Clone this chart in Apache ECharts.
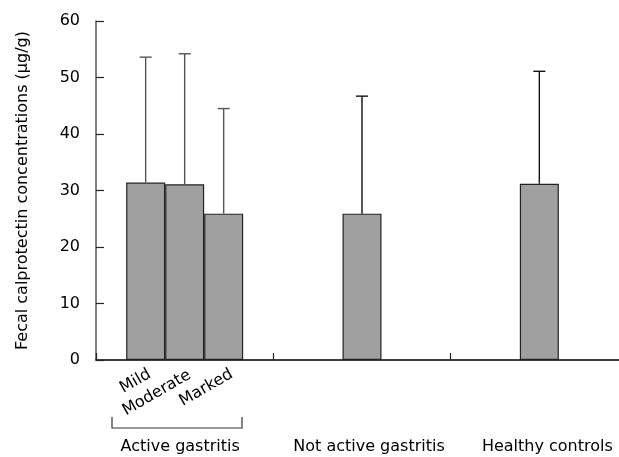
<!DOCTYPE html>
<html><head><meta charset="utf-8">
<script src="https://cdn.jsdelivr.net/npm/echarts@6/dist/echarts.min.js"></script>
<style>html,body{margin:0;padding:0;background:#fff}#c{width:619px;height:457px}</style>
</head><body><div id="c"></div>
<script>
// ---- data ----
const groups = ['Active gastritis', 'Not active gastritis', 'Healthy controls'];
const subLabels = ['Mild', 'Moderate', 'Marked'];
const leftMean = [31.4, null, null];     // Mild
const midMean = [31.1, 25.9, 31.2];      // Moderate / Not active / Healthy
const rightMean = [25.9, null, null];    // Marked
const leftTop = [53.6, null, null];      // upper end of error bar
const midTop = [54.2, 46.7, 51.1];
const rightTop = [44.5, null, null];
const yTicks = [0, 10, 20, 30, 40, 50, 60];

const FONT = 'DejaVu Sans';
const BAR_W = 39;
const means = [leftMean, midMean, rightMean];
const tops = [leftTop, midTop, rightTop];
const labelOffsets = [[-3.0, 13.3], [-2.6, 14.6], [0.4, 15.3]];
const groupPads = [[0, 9, 0, 0], [0, 0, 0, 14], [0, 0, 0, 16]];

const barSeries = means.map((arr, s) => ({
  type: 'bar',
  barWidth: BAR_W,
  barGap: '0%',
  itemStyle: { color: '#a0a0a0', borderColor: '#222', borderWidth: 1.2 },
  data: arr.map((v, i) => {
    if (v === null) return '-';
    if (i === 0) {
      return {
        value: v,
        label: {
          show: true, formatter: subLabels[s], position: 'bottom', distance: 0,
          rotate: 30, align: 'right', verticalAlign: 'middle',
          offset: labelOffsets[s], fontFamily: FONT, fontSize: 16, color: '#000'
        }
      };
    }
    return v;
  })
}));

const errData = [];
means.forEach((arr, s) => arr.forEach((v, i) => {
  if (v !== null) errData.push([i, v, tops[s][i], s]);
}));

const errSeries = {
  type: 'custom',
  z: 5,
  dimensions: ['cat', 'mean', 'top', 'slot'],
  encode: { x: 0, y: [1, 2] },
  data: errData,
  renderItem: function (params, api) {
    const i = api.value(0), m = api.value(1), t = api.value(2), s = api.value(3);
    const base = api.coord([i, m]);
    const top = api.coord([i, t]);
    const x = base[0] + (s - 1) * BAR_W;
    const col = i === 0 ? '#555' : '#111';
    const st = { stroke: col, lineWidth: 1.4 };
    return {
      type: 'group', children: [
        { type: 'line', shape: { x1: x, y1: base[1], x2: x, y2: top[1] }, style: st },
        { type: 'line', shape: { x1: x - 6, y1: top[1], x2: x + 6, y2: top[1] }, style: st }
      ]
    };
  }
};

const chart = echarts.init(document.getElementById('c'));
chart.setOption({
  animation: false,
  backgroundColor: '#fff',
  grid: { left: 96, top: 21, width: 532, height: 339, containLabel: false, outerBoundsMode: 'none' },
  xAxis: {
    type: 'category',
    data: groups.map((g, i) => ({ value: g, textStyle: { padding: groupPads[i] } })),
    axisLine: { lineStyle: { color: '#000', width: 1.5 } },
    axisTick: { show: true, inside: true, length: 7, alignWithLabel: false, interval: 0, lineStyle: { color: '#222', width: 1.2 } },
    axisLabel: { interval: 0, margin: 79, fontFamily: FONT, fontSize: 16, color: '#000' },
    splitLine: { show: false }
  },
  yAxis: {
    type: 'value',
    min: yTicks[0], max: yTicks[yTicks.length - 1], interval: 10,
    name: 'Fecal calprotectin concentrations (μg/g)',
    nameLocation: 'middle', nameGap: 65,
    nameTextStyle: { fontFamily: FONT, fontSize: 16, color: '#000' },
    axisLine: { show: true, lineStyle: { color: '#555', width: 1.5 } },
    axisTick: { show: true, inside: true, length: 8, lineStyle: { color: '#222', width: 1.2 } },
    axisLabel: { margin: 16, fontFamily: FONT, fontSize: 16, color: '#000' },
    splitLine: { show: false }
  },
  graphic: [{
    type: 'polyline',
    shape: { points: [[112, 417], [112, 428], [242, 428], [242, 417]] },
    style: { stroke: '#333', lineWidth: 1.2, fill: null }
  }],
  series: [...barSeries, errSeries]
});
</script>
</body></html>
